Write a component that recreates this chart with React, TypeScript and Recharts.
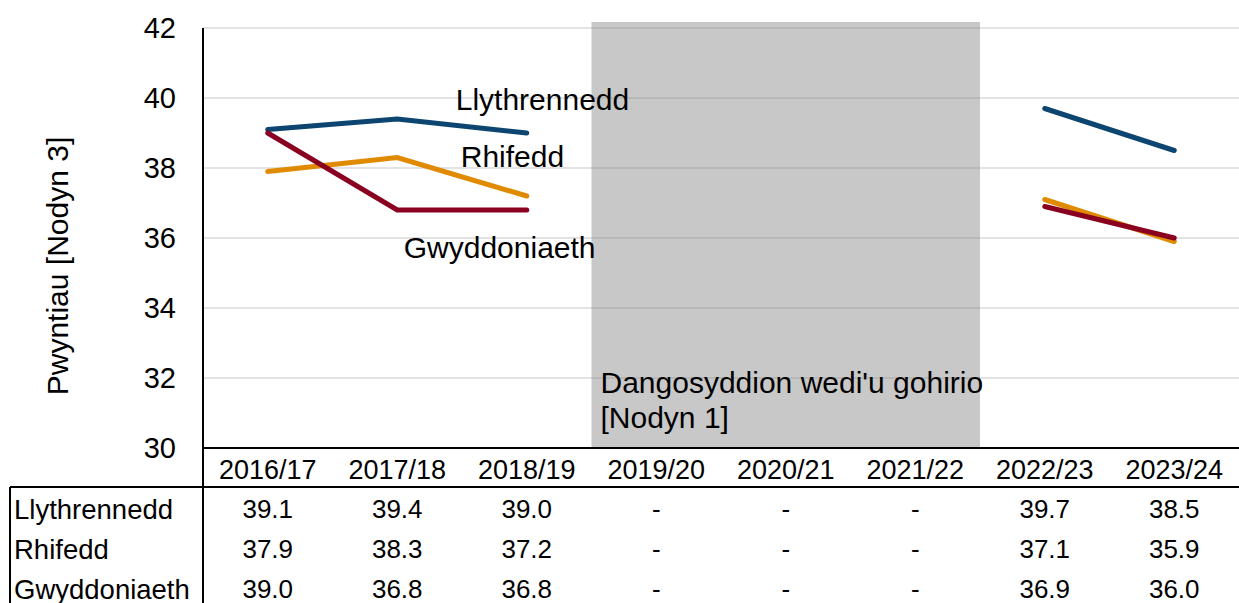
import { LineChart, Line, XAxis, YAxis, CartesianGrid, ReferenceArea } from "recharts";

const years = ["2016/17", "2017/18", "2018/19", "2019/20", "2020/21", "2021/22", "2022/23", "2023/24"];
const llythrennedd = [39.1, 39.4, 39.0, null, null, null, 39.7, 38.5];
const rhifedd = [37.9, 38.3, 37.2, null, null, null, 37.1, 35.9];
const gwyddoniaeth = [39.0, 36.8, 36.8, null, null, null, 36.9, 36.0];
const yTicks = [30, 32, 34, 36, 38, 40, 42];

const seriesNames = ["Llythrennedd", "Rhifedd", "Gwyddoniaeth"];
const seriesValues = [llythrennedd, rhifedd, gwyddoniaeth];
const colors = ["#0b4570", "#e08a00", "#8a0021"];

const data = years.map((year, i) => ({
  year,
  llythrennedd: llythrennedd[i],
  rhifedd: rhifedd[i],
  gwyddoniaeth: gwyddoniaeth[i],
}));

const FONT = "'Liberation Sans', Arial, sans-serif";

// table cell text for a row
const rowFormatter = (values: (number | null)[]) => (v: string) => {
  const n = values[years.indexOf(v)];
  return n == null ? "-" : n.toFixed(1);
};

// series name placed near the 2018/19 point
const nameLabel = (text: string, dx: number, dy: number) => (props: any) => {
  if (props.index !== 2) return null;
  return (
    <text x={props.x + dx} y={props.y + dy} fontSize={30} fill="#000" fontFamily={FONT}>
      {text}
    </text>
  );
};

export default function App() {
  return (
    <div
      style={{
        position: "absolute",
        left: 0,
        top: 0,
        width: 1239,
        height: 603,
        overflow: "hidden",
        background: "#fff",
        fontFamily: FONT,
      }}
    >
      <LineChart width={1239} height={603} data={data} margin={{ top: 28, right: 0, left: 0, bottom: 0 }}>
        <ReferenceArea
          x1="2019/20"
          x2="2021/22"
          y1={30}
          y2={42.17}
          ifOverflow="visible"
          fill="#808080"
          fillOpacity={0.43}
          stroke="none"
          label={(p: any) => {
            const vb = p.viewBox;
            const bottom = vb.y + vb.height;
            return (
              <g>
                <text x={vb.x + 9} y={bottom - 55} fontSize={30} fill="#000" fontFamily={FONT}>
                  Dangosyddion wedi'u gohirio
                </text>
                <text x={vb.x + 9} y={bottom - 20} fontSize={30} fill="#000" fontFamily={FONT}>
                  [Nodyn 1]
                </text>
              </g>
            );
          }}
        />
        <CartesianGrid vertical={false} stroke="#e3e3e3" strokeWidth={2} />
        <XAxis
          dataKey="year"
          scale="band"
          height={39}
          interval={0}
          tickLine={false}
          tickSize={0}
          tickMargin={12}
          axisLine={{ stroke: "#000", strokeWidth: 2 }}
          tick={{ fill: "#000", fontSize: 27 }}
        />
        {seriesValues.map((vals, i) => (
          <XAxis
            key={seriesNames[i]}
            xAxisId={`row${i}`}
            dataKey="year"
            scale="band"
            height={i === 2 ? 36 : 40}
            interval={0}
            tickLine={false}
            axisLine={false}
            tickSize={0}
            tickMargin={13}
            tick={{ fill: "#000", fontSize: 26 }}
            tickFormatter={rowFormatter(vals)}
          />
        ))}
        <YAxis
          width={203}
          domain={[30, 42]}
          ticks={yTicks}
          tickLine={false}
          tickSize={0}
          tickMargin={27}
          axisLine={{ stroke: "#000", strokeWidth: 2 }}
          tick={{ fill: "#000", fontSize: 29 }}
          label={{
            content: () => {
              const cx = 57;
              const cy = 266;
              return (
                <text
                  x={cx}
                  y={cy}
                  transform={`rotate(-90 ${cx} ${cy})`}
                  textAnchor="middle"
                  dominantBaseline="central"
                  fontSize={30}
                  fill="#000"
                  fontFamily={FONT}
                >
                  Pwyntiau [Nodyn 3]
                </text>
              );
            },
          }}
        />
        <Line
          dataKey="llythrennedd"
          stroke={colors[0]}
          strokeWidth={5}
          strokeLinecap="round"
          dot={false}
          isAnimationActive={false}
          label={nameLabel("Llythrennedd", -71, -23)}
        />
        <Line
          dataKey="rhifedd"
          stroke={colors[1]}
          strokeWidth={5}
          strokeLinecap="round"
          dot={false}
          isAnimationActive={false}
          label={nameLabel("Rhifedd", -66, -29)}
        />
        <Line
          dataKey="gwyddoniaeth"
          stroke={colors[2]}
          strokeWidth={5}
          strokeLinecap="round"
          dot={false}
          isAnimationActive={false}
          label={nameLabel("Gwyddoniaeth", -123, 48)}
        />
      </LineChart>
      {/* table borders and row names */}
      <svg
        width={1239}
        height={603}
        style={{ position: "absolute", left: 0, top: 0, pointerEvents: "none" }}
      >
        <line x1={10} y1={487} x2={1239} y2={487} stroke="#000" strokeWidth={2} />
        <line x1={10} y1={487} x2={10} y2={603} stroke="#000" strokeWidth={2} />
        <line x1={203} y1={448} x2={203} y2={603} stroke="#000" strokeWidth={2} />
        {seriesNames.map((name, i) => (
          <text key={name} x={14} y={519 + i * 40} fontSize={27.5} fill="#000" fontFamily={FONT}>
            {name}
          </text>
        ))}
      </svg>
    </div>
  );
}
